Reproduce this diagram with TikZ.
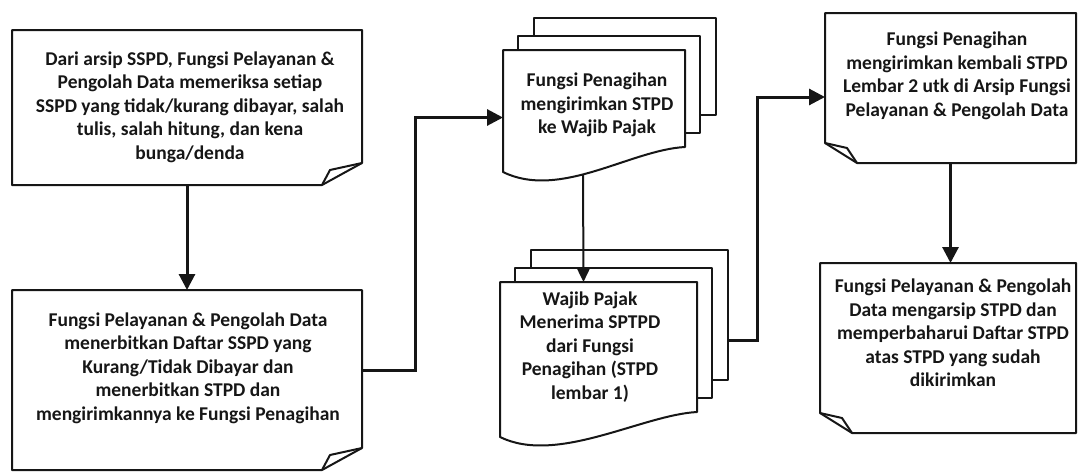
\documentclass[tikz,border=0pt]{standalone}
\usepackage{fontspec}
\setmainfont{Carlito}
\usepackage{tikz}
\usetikzlibrary{arrows.meta}
\definecolor{ink}{HTML}{161616}
% dog-ear frames: fold at bottom right / bottom left
\newcommand{\earbr}[1]{%
  \draw[frm] (#1.north west) -- (#1.north east) -- ([yshift=22pt]#1.south east)
    -- ([xshift=-40pt]#1.south east) -- (#1.south west) -- cycle;
  \draw[frm] ([xshift=-40pt]#1.south east) -- ([xshift=-32pt,yshift=15pt]#1.south east)
    -- ([yshift=22pt]#1.south east);}
\newcommand{\earbl}[1]{%
  \draw[frm] (#1.north west) -- (#1.north east) -- (#1.south east)
    -- ([xshift=32pt]#1.south west) -- ([yshift=20pt]#1.south west) -- cycle;
  \draw[frm] ([yshift=20pt]#1.south west) -- ([xshift=22pt,yshift=15pt]#1.south west)
    -- ([xshift=32pt]#1.south west);}
% three stacked sheets, wavy bottom on the front one
\newcommand{\docstack}[1]{%
  \foreach \dx/\dy in {31/32, 15/14}
    \draw[frm, fill=white] ([xshift=\dx pt, yshift=\dy pt]#1.north west)
      rectangle ([xshift=\dx pt, yshift={(\dy+28)*1pt}]#1.south east);
  \draw[frm, fill=white] (#1.north west) -- (#1.north east) -- ([yshift=28pt]#1.south east)
    .. controls ([xshift=-55pt,yshift=25pt]#1.south east) and ([xshift=57pt,yshift=-25pt]#1.south west)
    .. ([yshift=3pt]#1.south west) -- cycle;}

\begin{document}
\begin{tikzpicture}[x=1pt, y=-1pt, ink,
      box/.style={inner sep=0pt, outer sep=0pt},
      frm/.style={draw=ink, line width=2pt, line join=round},
      txt/.style={align=center, inner sep=0pt, font=\fontsize{19.5}{23.5}\selectfont\bfseries},
      arr/.style={-{Triangle[length=16pt, width=16pt]}, line width=3pt, draw=ink}]
    \useasboundingbox (0,0) rectangle (1078,472);

    \node[box, minimum width=350pt, minimum height=155pt] (a) at (187,107.5) {};
    \node[box, minimum width=350pt, minimum height=180pt] (b) at (187,380) {};
    \node[box, minimum width=182pt, minimum height=125pt] (s1) at (594,112.5) {};
    \node[box, minimum width=197pt, minimum height=158pt] (s2) at (598.5,361) {};
    \node[box, minimum width=251pt, minimum height=150pt] (c) at (950.5,88) {};
    \node[box, minimum width=256pt, minimum height=170pt] (d) at (948,348) {};

    \earbr{a} \earbr{b}
    \earbl{c} \earbl{d}
    \docstack{s1} \docstack{s2}

    \node[txt] (a-t) at (190,107) {Dari arsip SSPD, Fungsi Pelayanan \&\\ Pengolah Data memeriksa setiap\\ SSPD yang tidak/kurang dibayar, salah\\ tulis, salah hitung, dan kena\\ bunga/denda};
    \node[txt] (b-t) at (188,368) {Fungsi Pelayanan \& Pengolah Data\\ menerbitkan Daftar SSPD yang\\ Kurang/Tidak Dibayar dan\\ menerbitkan STPD dan\\ mengirimkannya ke Fungsi Penagihan};
    \node[txt] (s1-t) at (597,105) {Fungsi Penagihan\\ mengirimkan STPD\\ ke Wajib Pajak};
    \node[txt] (s2-t) at (590,347) {Wajib Pajak\\ Menerima SPTPD\\ dari Fungsi\\ Penagihan (STPD\\ lembar 1)};
    \node[txt] (c-t) at (957,76) {Fungsi Penagihan\\ mengirimkan kembali STPD\\ Lembar 2 utk di Arsip Fungsi\\ Pelayanan \& Pengolah Data};
    \node[txt] (d-t) at (953,333) {Fungsi Pelayanan \& Pengolah\\ Data mengarsip STPD dan\\ memperbaharui Daftar STPD\\ atas STPD yang sudah\\ dikirimkan};

    \draw[arr] (a.south) -- (b.north);
    \draw[arr] ([yshift=10pt]b.east) -- ++(53,0) |- ([yshift=-5pt]s1.west);
    \draw[arr, line width=2pt, -{Triangle[length=13pt, width=12pt]}] ([xshift=-11pt]s1.south) -- ([xshift=-15pt]s2.north);
    \draw[arr] ([xshift=31pt,yshift=21pt]s2.east) -- ++(29,0) |- ([yshift=-9pt]c.west);
    \draw[arr] (c.south) -- (c.south |- d.north);
  \end{tikzpicture}
\end{document}
